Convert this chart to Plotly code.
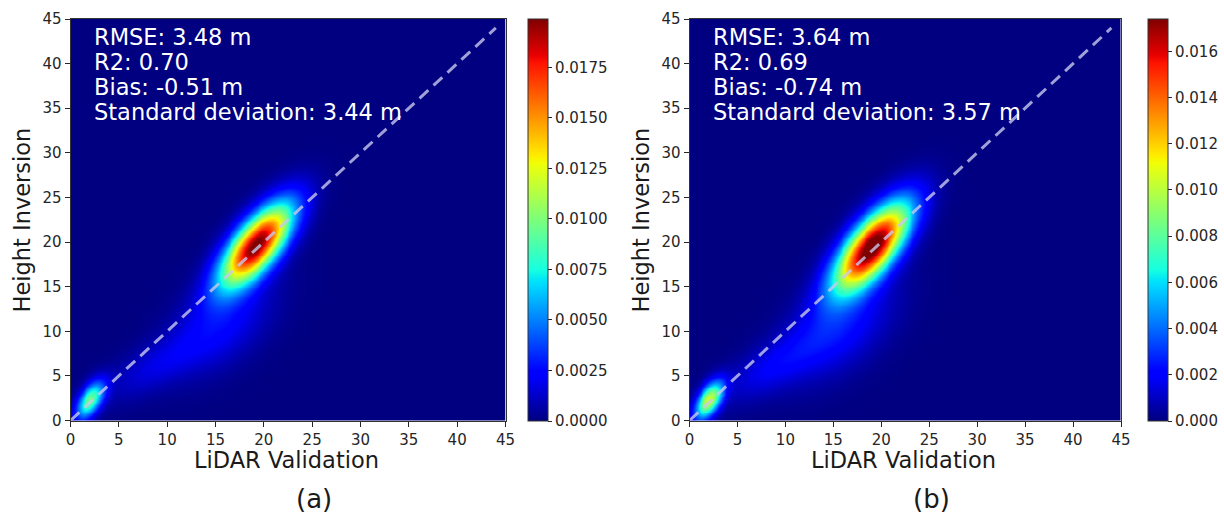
import numpy as np
import plotly.graph_objects as go

# Axis ticks and ranges
AXIS_TICKS = [0, 5, 10, 15, 20, 25, 30, 35, 40, 45]
DIAG = [0, 44]

# Density model per panel: Gaussian components (weight, mean x, mean y, sd x, sd y, correlation)
A_WEIGHT = [0.74, 0.072, 0.17, 0.06]
A_MX = [19.2, 2.0, 15.5, 8.5]
A_MY = [19.7, 2.3, 10.8, 6.0]
A_SX = [2.55, 1.0, 3.7, 3.5]
A_SY = [3.2, 1.45, 3.7, 2.6]
A_RHO = [0.70, 0.55, 0.5, 0.7]

B_WEIGHT = [0.76, 0.078, 0.19, 0.07]
B_MX = [19.0, 2.0, 15.5, 8.5]
B_MY = [19.5, 2.3, 10.5, 6.0]
B_SX = [2.7, 1.0, 3.9, 3.6]
B_SY = [3.4, 1.45, 3.9, 2.7]
B_RHO = [0.70, 0.55, 0.5, 0.7]

A_ZMAX = 0.0199
B_ZMAX = 0.0174
A_CB_TICKS = [0.0, 0.0025, 0.005, 0.0075, 0.01, 0.0125, 0.015, 0.0175]
B_CB_TICKS = [0.0, 0.002, 0.004, 0.006, 0.008, 0.010, 0.012, 0.014, 0.016]

A_STATS = ["RMSE: 3.48 m", "R2: 0.70", "Bias: -0.51 m", "Standard deviation: 3.44 m"]
B_STATS = ["RMSE: 3.64 m", "R2: 0.69", "Bias: -0.74 m", "Standard deviation: 3.57 m"]

grid = np.linspace(0, 45, 226)
GX, GY = np.meshgrid(grid, grid)


def density(w, mx, my, sx, sy, rho):
    z = np.zeros_like(GX)
    for wi, ax, ay, bx, by, r in zip(w, mx, my, sx, sy, rho):
        dx = (GX - ax) / bx
        dy = (GY - ay) / by
        q = (dx * dx - 2 * r * dx * dy + dy * dy) / (1 - r * r)
        z += wi * np.exp(-q / 2) / (2 * np.pi * bx * by * np.sqrt(1 - r * r))
    return z


# matplotlib-style jet colormap
_jet = {
    "r": [(0, 0), (0.35, 0), (0.66, 1), (0.89, 1), (1, 0.5)],
    "g": [(0, 0), (0.125, 0), (0.375, 1), (0.64, 1), (0.91, 0), (1, 0)],
    "b": [(0, 0.5), (0.11, 1), (0.34, 1), (0.65, 0), (1, 0)],
}
stops = sorted({p for ch in _jet.values() for p, _ in ch})
jet = []
for s in stops:
    rgb = [np.interp(s, [p for p, _ in _jet[c]], [v for _, v in _jet[c]]) for c in "rgb"]
    jet.append([s, "rgb(%d,%d,%d)" % tuple(int(round(255 * v)) for v in rgb)])

W, H = 1224, 513
ML, MR, MT, MB = 0, 0, 10, 40
PW, PH = W - ML - MR, H - MT - MB


def fx(px):
    return (px - ML) / PW


def fy(py):
    return 1 - (py - MT) / PH


FONT = "DejaVu Sans"
TICK_COLOR = "#262626"
TITLE_COLOR = "#1a1a1a"

panels = [
    dict(z=density(A_WEIGHT, A_MX, A_MY, A_SX, A_SY, A_RHO), zmax=A_ZMAX, cbt=A_CB_TICKS, fmt="%.4f",
         stats=A_STATS, left=70.5, right=505.5, cb=528, label="(a)"),
    dict(z=density(B_WEIGHT, B_MX, B_MY, B_SX, B_SY, B_RHO), zmax=B_ZMAX, cbt=B_CB_TICKS, fmt="%.3f",
         stats=B_STATS, left=689.5, right=1121.0, cb=1148, label="(b)"),
]

top_px, bot_px = 19, 420.5
fig = go.Figure()
annotations = []
layout_axes = {}

for i, p in enumerate(panels):
    sfx = "" if i == 0 else str(i + 1)
    xa, ya = "x" + sfx, "y" + sfx
    fig.add_trace(go.Heatmap(
        x=grid, y=grid, z=p["z"], zmin=0, zmax=p["zmax"], colorscale=jet, zsmooth="best",
        xaxis=xa, yaxis=ya, hoverinfo="skip",
        colorbar=dict(
            x=fx(p["cb"]), xanchor="left", y=fy(top_px), yanchor="top",
            len=(bot_px - top_px) / PH, lenmode="fraction", thickness=20, thicknessmode="pixels",
            outlinewidth=1, outlinecolor="#333", ticks="outside", ticklen=4, tickcolor=TICK_COLOR,
            tickvals=p["cbt"], ticktext=[p["fmt"] % v for v in p["cbt"]],
            tickfont=dict(family=FONT, size=15, color=TICK_COLOR), xpad=0, ypad=0,
        ),
    ))
    fig.add_trace(go.Scatter(
        x=DIAG, y=DIAG, mode="lines", xaxis=xa, yaxis=ya, showlegend=False, hoverinfo="skip",
        line=dict(color="rgba(200,200,238,0.8)", width=3, dash="12px,7px"),
    ))
    common = dict(range=[0, 45], tickvals=AXIS_TICKS, ticks="outside", ticklen=5, tickcolor=TICK_COLOR,
                  tickfont=dict(family=FONT, size=15, color=TICK_COLOR), showgrid=False, zeroline=False,
                  showline=True, linecolor="#333", linewidth=1, mirror=True, automargin=False)
    layout_axes["xaxis" + sfx] = dict(domain=[fx(p["left"]), fx(p["right"])], anchor=ya, **common)
    layout_axes["yaxis" + sfx] = dict(domain=[fy(bot_px), fy(top_px)], anchor=xa, **common)

    for k, line in enumerate(p["stats"]):
        annotations.append(dict(
            text=line, xref="paper", yref="paper", x=fx(p["left"] + 22.5), y=fy(36.7 + 25 * k),
            xanchor="left", yanchor="middle", showarrow=False, borderpad=0,
            font=dict(family=FONT, size=22.5, color="white"),
        ))
    cx = (p["left"] + p["right"]) / 2
    annotations.append(dict(text="LiDAR Validation", xref="paper", yref="paper", x=fx(cx - 2), y=fy(460),
                            xanchor="center", yanchor="middle", showarrow=False,
                            font=dict(family=FONT, size=22.5, color=TITLE_COLOR)))
    annotations.append(dict(text=p["label"], xref="paper", yref="paper", x=fx(cx + 26), y=fy(499),
                            xanchor="center", yanchor="middle", showarrow=False,
                            font=dict(family=FONT, size=26, color=TITLE_COLOR)))
    annotations.append(dict(text="Height Inversion", xref="paper", yref="paper", x=fx(p["left"] - 49),
                            y=fy(220), xanchor="center", yanchor="middle", textangle=-90, showarrow=False,
                            font=dict(family=FONT, size=22.5, color=TITLE_COLOR)))

fig.update_layout(
    template="none",
    width=W, height=H, margin=dict(l=ML, r=MR, t=MT, b=MB, autoexpand=False), showlegend=False,
    paper_bgcolor="white", plot_bgcolor="white", annotations=annotations, **layout_axes,
)
fig.write_html("out.html")
